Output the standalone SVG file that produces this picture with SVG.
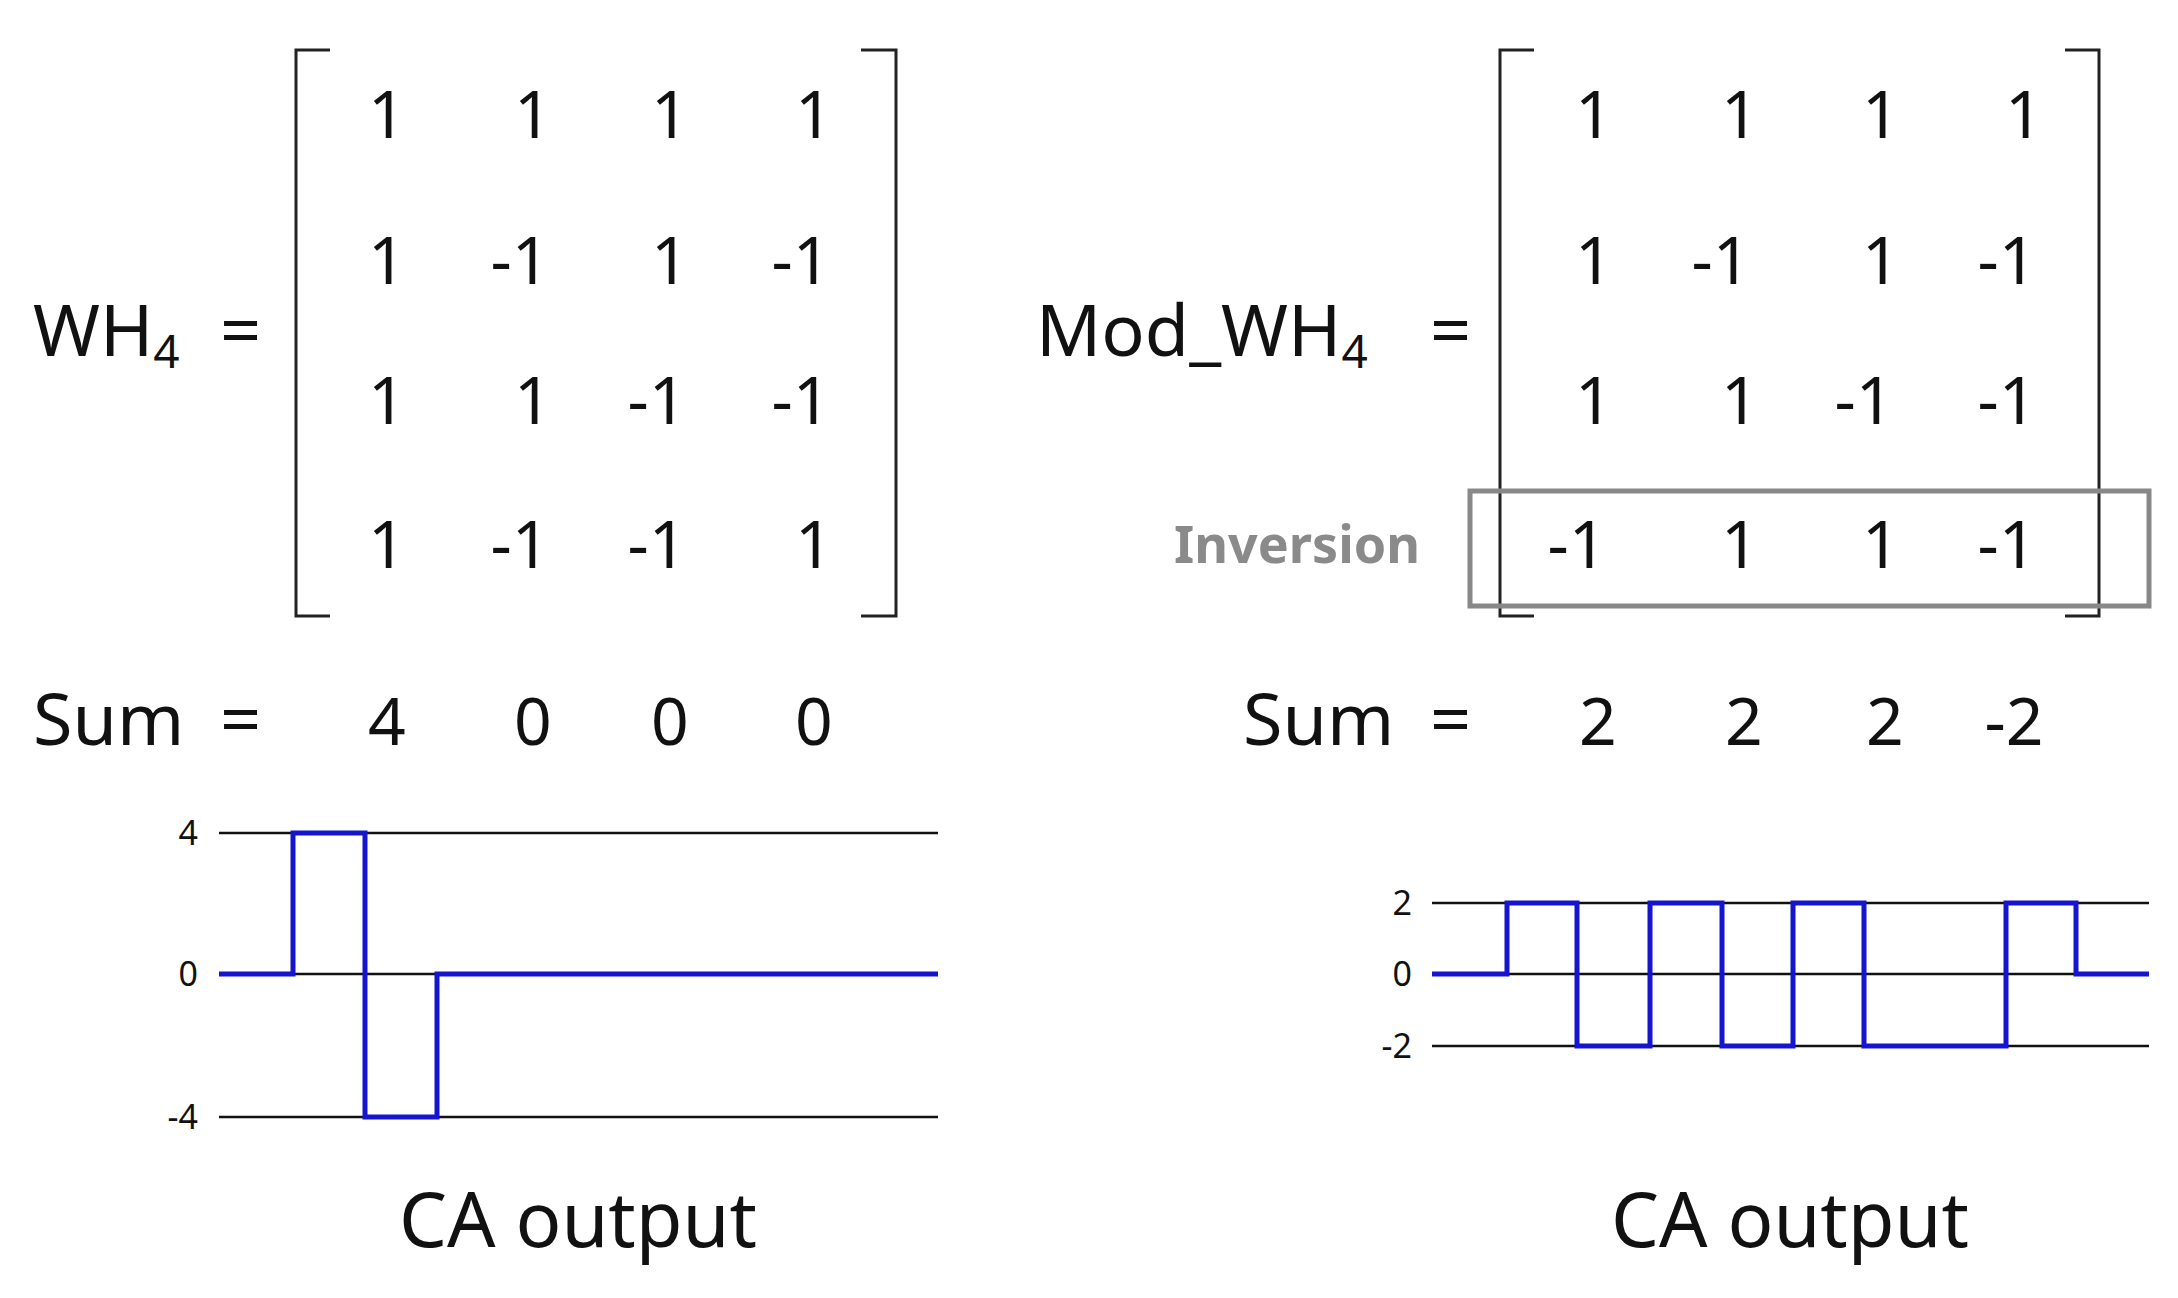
<svg xmlns="http://www.w3.org/2000/svg" width="2178" height="1298" viewBox="0 0 2178 1298">
<style>
text{font-family:"Noto Sans","Open Sans",sans-serif;fill:#111}
.m{font-size:66px;text-anchor:middle}
.l{font-size:72px}
.c{font-size:76px;text-anchor:middle}
.ax{font-size:34px;text-anchor:end}
.br{fill:none;stroke:#222;stroke-width:3}
.grid{stroke:#111;stroke-width:2.5}
.sig{fill:none;stroke:#1515d0;stroke-width:5}
</style>
<rect width="2178" height="1298" fill="#fff"/>
<g id="left-matrix">
<text class="l" x="33" y="356">WH<tspan font-size="46" dy="12">4</tspan></text>
<text class="l" x="220" y="356">=</text>
<path class="br" d="M330,50 H296 V616 H330 M861,50 H896 V616 H861"/>
<text class="m" x="387" y="138">1</text><text class="m" x="533" y="138">1</text><text class="m" x="670" y="138">1</text><text class="m" x="814" y="138">1</text>
<text class="m" x="387" y="284">1</text><text class="m" x="520" y="284">-1</text><text class="m" x="670" y="284">1</text><text class="m" x="801" y="284">-1</text>
<text class="m" x="387" y="424">1</text><text class="m" x="533" y="424">1</text><text class="m" x="657" y="424">-1</text><text class="m" x="801" y="424">-1</text>
<text class="m" x="387" y="568">1</text><text class="m" x="520" y="568">-1</text><text class="m" x="657" y="568">-1</text><text class="m" x="814" y="568">1</text>
</g>
<g id="left-sum">
<text class="l" x="33" y="745">Sum</text>
<text class="l" x="220" y="745">=</text>
<text class="m" x="387" y="745">4</text><text class="m" x="533" y="745">0</text><text class="m" x="670" y="745">0</text><text class="m" x="814" y="745">0</text>
</g>
<g id="left-chart">
<line class="grid" x1="219" y1="833" x2="938" y2="833"/>
<line class="grid" x1="219" y1="974" x2="938" y2="974"/>
<line class="grid" x1="219" y1="1117" x2="938" y2="1117"/>
<text class="ax" x="198" y="845">4</text><text class="ax" x="198" y="986">0</text><text class="ax" x="198" y="1129">-4</text>
<path class="sig" d="M219,974 H293 V833 H365 V1117 H437 V974 H938"/>
<text class="c" x="578" y="1247">CA output</text>
</g>
<g id="right-matrix">
<text class="l" x="1036" y="356">Mod_WH<tspan font-size="46" dy="12">4</tspan></text>
<text class="l" x="1430" y="356">=</text>
<path class="br" d="M1534,50 H1500 V616 H1534 M2065,50 H2099 V616 H2065"/>
<text class="m" x="1594" y="138">1</text><text class="m" x="1740" y="138">1</text><text class="m" x="1881" y="138">1</text><text class="m" x="2024" y="138">1</text>
<text class="m" x="1594" y="284">1</text><text class="m" x="1721" y="284">-1</text><text class="m" x="1881" y="284">1</text><text class="m" x="2007" y="284">-1</text>
<text class="m" x="1594" y="424">1</text><text class="m" x="1740" y="424">1</text><text class="m" x="1864" y="424">-1</text><text class="m" x="2007" y="424">-1</text>
<text class="m" x="1577" y="568">-1</text><text class="m" x="1740" y="568">1</text><text class="m" x="1881" y="568">1</text><text class="m" x="2007" y="568">-1</text>
</g>
<g id="inversion">
<rect x="1470" y="491" width="679" height="115" fill="none" stroke="#888" stroke-width="5"/>
<text x="1420" y="563" font-size="52" font-weight="bold" text-anchor="end" style="fill:#8a8a8a">Inversion</text>
</g>
<g id="right-sum">
<text class="l" x="1243" y="745">Sum</text>
<text class="l" x="1430" y="745">=</text>
<text class="m" x="1598" y="745">2</text><text class="m" x="1744" y="745">2</text><text class="m" x="1885" y="745">2</text><text class="m" x="2014" y="745">-2</text>
</g>
<g id="right-chart">
<line class="grid" x1="1432" y1="903" x2="2149" y2="903"/>
<line class="grid" x1="1432" y1="974" x2="2149" y2="974"/>
<line class="grid" x1="1432" y1="1046" x2="2149" y2="1046"/>
<text class="ax" x="1412" y="915">2</text><text class="ax" x="1412" y="986">0</text><text class="ax" x="1412" y="1058">-2</text>
<path class="sig" d="M1432,974 H1507 V903 H1577 V1046 H1650 V903 H1722 V1046 H1793 V903 H1864 V1046 H2006 V903 H2076 V974 H2149"/>
<text class="c" x="1790" y="1247">CA output</text>
</g>
</svg>
